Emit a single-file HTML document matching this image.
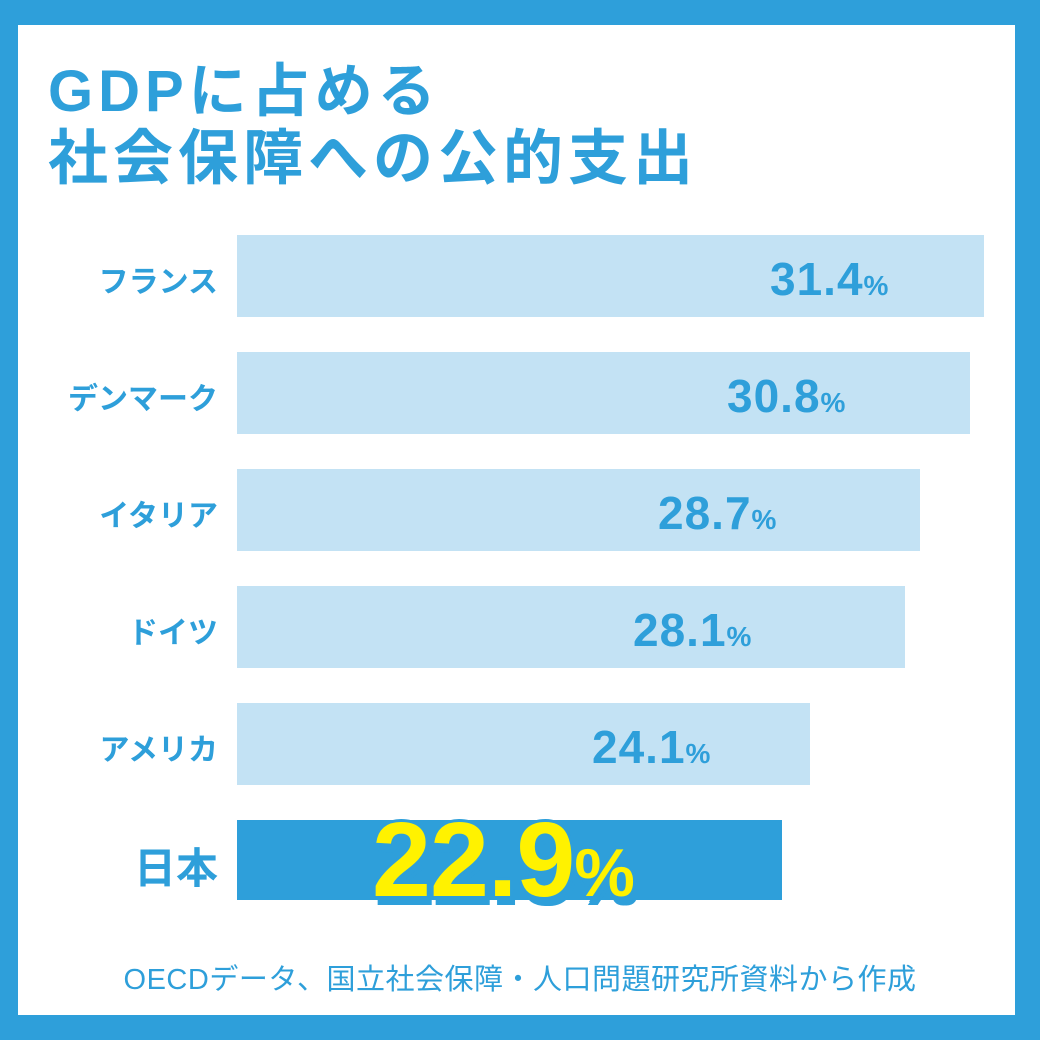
<!DOCTYPE html>
<html><head><meta charset="utf-8"><style>
body{margin:0;width:1040px;height:1040px;background:#2e9fda;position:relative;overflow:hidden;font-family:"Liberation Sans","Noto Sans CJK JP",sans-serif;}
.in{position:absolute;left:18px;top:25px;width:997px;height:990px;background:#fff;}
.t{position:absolute;left:48px;color:#2e9fda;font-weight:bold;white-space:nowrap;}
.bar{position:absolute;left:237px;height:82px;background:#c3e2f4;}
.lab{position:absolute;right:822px;color:#2e9fda;font-weight:bold;font-size:30px;white-space:nowrap;text-align:right;}
.v{position:absolute;color:#2e9fda;font-weight:bold;font-size:46px;white-space:nowrap;letter-spacing:1px;}
.v small{font-size:28px;}
</style></head><body>
<div class="in"></div>
<div class="t" style="top:44px;font-size:58px;letter-spacing:5px;">GDPに占める</div>
<div class="t" style="top:110px;font-size:60px;letter-spacing:5px;">社会保障への公的支出</div>

<div class="bar" style="top:235px;width:747px"></div>
<div class="bar" style="top:352px;width:733px"></div>
<div class="bar" style="top:469px;width:683px"></div>
<div class="bar" style="top:586px;width:668px"></div>
<div class="bar" style="top:703px;width:573px"></div>
<div class="bar" style="top:820px;width:545px;height:80px;background:#2e9fda"></div>

<div class="lab" style="top:257px">フランス</div>
<div class="lab" style="top:374px">デンマーク</div>
<div class="lab" style="top:491px">イタリア</div>
<div class="lab" style="top:608px">ドイツ</div>
<div class="lab" style="top:725px">アメリカ</div>
<div class="lab" style="top:835px;font-size:42px">日本</div>

<div class="v" style="left:770px;top:252px">31.4<small>%</small></div>
<div class="v" style="left:727px;top:369px">30.8<small>%</small></div>
<div class="v" style="left:658px;top:486px">28.7<small>%</small></div>
<div class="v" style="left:633px;top:603px">28.1<small>%</small></div>
<div class="v" style="left:592px;top:720px">24.1<small>%</small></div>

<div style="position:absolute;left:372px;top:800px;font-weight:bold;font-size:106px;letter-spacing:-1px;color:#fff200;white-space:nowrap;text-shadow:3px 0 0 #2e9fda,-3px 0 0 #2e9fda,0 3px 0 #2e9fda,0 -3px 0 #2e9fda,3px 6px 0 #2e9fda,5px 9px 0 #2e9fda,2px 9px 0 #2e9fda;">22.9<span style="font-size:68px;letter-spacing:0">%</span></div>

<div style="position:absolute;left:0;width:1040px;top:956px;text-align:center;color:#2e9fda;font-size:29px;letter-spacing:0.5px;white-space:nowrap;">OECDデータ、国立社会保障・人口問題研究所資料から作成</div>
</body></html>
